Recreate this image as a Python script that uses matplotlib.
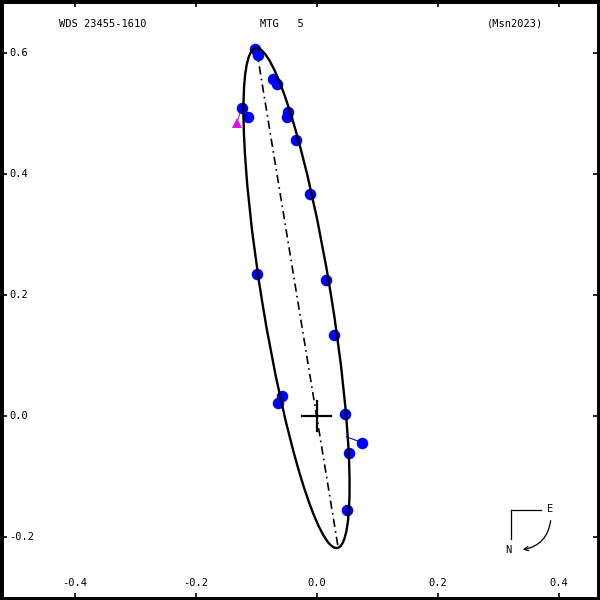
import numpy as np
import matplotlib
matplotlib.use('Agg')
import matplotlib.pyplot as plt
from matplotlib.patches import Ellipse, FancyArrowPatch
from matplotlib.lines import Line2D

# apparent orbit (arcsec)
orb_center = (-0.0332, 0.195)
orb_major = 0.4185
orb_minor = 0.057
orb_angle = 99.25
periastron = (0.0357, -0.2178)
apastron = (-0.0996, 0.6078)

# measures
obs_x = [-0.1017, -0.0967, -0.0719, -0.0653, -0.1231, -0.1132, -0.0471, -0.0488,
         -0.0339, -0.0107, -0.0983, 0.0157, 0.0289, -0.0570, -0.0636, 0.0471,
         0.0755, 0.0537, 0.0504]
obs_y = [0.6066, 0.5967, 0.5570, 0.5488, 0.5091, 0.4942, 0.5025, 0.4942,
         0.4562, 0.3669, 0.2347, 0.2248, 0.1339, 0.0331, 0.0215, 0.0033,
         -0.0442, -0.0612, -0.1554]
# O-C residual visible
oc_obs_x = [0.0755]
oc_obs_y = [-0.0442]
oc_calc_x = [0.0491]
oc_calc_y = [-0.0342]

# other measure (triangle)
tri_x = [-0.1317]
tri_y = [0.4843]
tri_calc_x = [-0.1270]
tri_calc_y = [0.5000]

xticks = [-0.4, -0.2, 0.0, 0.2, 0.4]
yticks = [-0.2, 0.0, 0.2, 0.4, 0.6]
xlabels = ['-0.4', '-0.2', '0.0', '0.2', '0.4']
ylabels = ['-0.2', '0.0', '0.2', '0.4', '0.6']

font = 'DejaVu Sans Mono'
fs = 7.5

fig = plt.figure(figsize=(6, 6), dpi=100)
ax = fig.add_axes([0, 0, 1, 1])
ax.set_xlim(-0.5233, 0.4684)
ax.set_ylim(-0.3041, 0.6876)

ell = Ellipse(orb_center, 2*orb_major, 2*orb_minor, angle=orb_angle,
              fill=False, edgecolor='black', lw=1.7, zorder=3)
ax.add_patch(ell)
ax.plot([apastron[0], periastron[0]], [apastron[1], periastron[1]],
        color='black', lw=1.2, linestyle=(0, (5, 2.5, 1, 2.5)), zorder=2)

# primary
ax.plot([-0.024, 0.024], [0, 0], color='black', lw=1.6, zorder=4)
ax.plot([0, 0], [-0.025, 0.025], color='black', lw=1.6, zorder=4)

for i in range(len(oc_obs_x)):
	ax.plot([oc_obs_x[i], oc_calc_x[i]], [oc_obs_y[i], oc_calc_y[i]],
	        color='blue', lw=0.8, zorder=2)
for i in range(len(tri_x)):
	ax.plot([tri_x[i], tri_calc_x[i]], [tri_y[i], tri_calc_y[i]],
	        color='#e010e0', lw=0.8, zorder=2)

ax.plot(obs_x, obs_y, 'o', color='blue', markersize=8.3, markeredgewidth=0, zorder=2.5)
ax.plot(tri_x, tri_y, '^', color='#e010e0', markersize=7, markeredgewidth=0, zorder=2.5)

ax.set_xticks(xticks)
ax.set_yticks(yticks)
ax.tick_params(direction='in', length=5, width=1.2, top=True, right=True,
               labelbottom=False, labelleft=False)
for s in ax.spines.values():
	s.set_linewidth(5)

for v, t in zip(xticks, xlabels):
	ax.text(v, 0.028, t, transform=ax.get_xaxis_transform(), ha='center',
	        va='center', family=font, fontsize=fs)
for v, t in zip(yticks, ylabels):
	ax.text(0.015, v, t, transform=ax.get_yaxis_transform(), ha='left',
	        va='center', family=font, fontsize=fs)

ax.text(0.099, 0.960, 'WDS 23455-1610', transform=ax.transAxes, ha='left',
        va='center', family=font, fontsize=fs)
ax.text(0.433, 0.960, 'MTG   5', transform=ax.transAxes, ha='left',
        va='center', family=font, fontsize=fs)
ax.text(0.811, 0.960, '(Msn2023)', transform=ax.transAxes, ha='left',
        va='center', family=font, fontsize=fs)

# compass
tf = fig.transFigure
fig.add_artist(Line2D([511/600, 541/600], [1-510/600, 1-510/600], color='black', lw=0.9, transform=tf))
fig.add_artist(Line2D([511/600, 511/600], [1-510/600, 1-539/600], color='black', lw=0.9, transform=tf))
fig.text(550/600, 1-509/600, 'E', ha='center', va='center', family=font, fontsize=fs)
fig.text(508/600, 1-550/600, 'N', ha='center', va='center', family=font, fontsize=fs)
arr = FancyArrowPatch((551/600, 1-518/600), (520/600, 1-550/600), transform=tf,
                      connectionstyle='arc3,rad=-0.4', arrowstyle='->,head_length=3,head_width=1.5',
                      color='black', lw=0.9)
fig.add_artist(arr)

plt.savefig('out.png', dpi=100)
